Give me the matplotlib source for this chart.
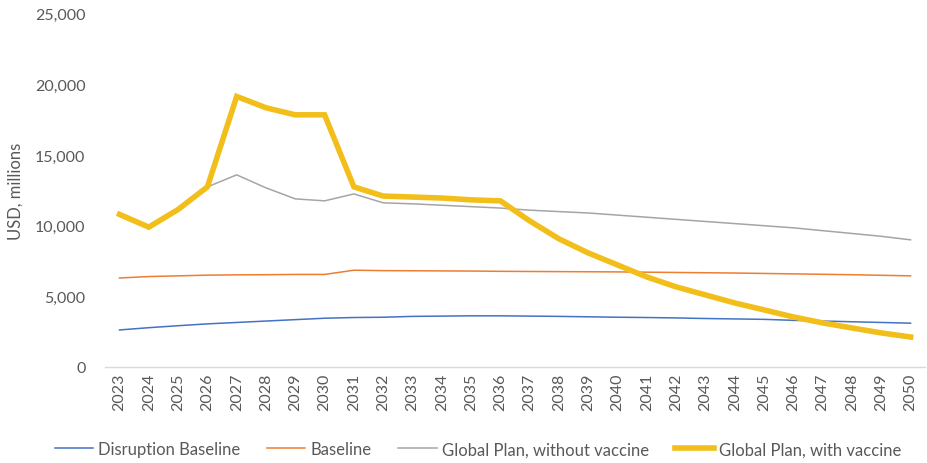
import numpy as np
import matplotlib.pyplot as plt
from matplotlib.ticker import FuncFormatter

plt.rcParams['font.family'] = ['Lato', 'DejaVu Sans']

years = list(range(2023, 2051))

disruption_baseline = [2620, 2780, 2920, 3050, 3150, 3250, 3350, 3450, 3500, 3520,
                       3580, 3600, 3620, 3620, 3600, 3580, 3550, 3520, 3500, 3470,
                       3430, 3400, 3370, 3300, 3250, 3200, 3150, 3100]
baseline = [6300, 6400, 6450, 6500, 6520, 6530, 6550, 6550, 6850, 6820,
            6810, 6800, 6790, 6770, 6760, 6750, 6740, 6730, 6710, 6690,
            6670, 6650, 6620, 6590, 6560, 6530, 6490, 6450]
plan_no_vaccine = [10800, 9900, 11150, 12750, 13600, 12680, 11900, 11760, 12250, 11620,
                   11550, 11450, 11350, 11250, 11100, 11000, 10900, 10750, 10600, 10450,
                   10300, 10150, 10000, 9850, 9650, 9450, 9250, 9000]
plan_vaccine = [10800, 9900, 11150, 12750, 19150, 18350, 17850, 17850, 12750, 12100,
                12030, 11960, 11830, 11760, 10340, 9070, 8070, 7220, 6370, 5670,
                5100, 4530, 4040, 3540, 3120, 2760, 2410, 2120]

fig = plt.figure(figsize=(9.28, 4.64), dpi=100)
ax = fig.add_axes([0.113, 0.207, 0.884, 0.761])

ax.plot(years, disruption_baseline, color='#4472C4', lw=1.1, label='Disruption Baseline')
ax.plot(years, baseline, color='#ED7D31', lw=1.1, label='Baseline')
ax.plot(years, plan_no_vaccine, color='#A5A5A5', lw=1.1, label='Global Plan, without vaccine')
ax.plot(years, plan_vaccine, color='#F2BE1A', lw=4.0, label='Global Plan, with vaccine',
        solid_joinstyle='miter')

ax.set_xlim(2022.5, 2050.5)
ax.set_ylim(0, 25000)
ax.set_xticks(years)
ax.set_xticklabels([str(y) for y in years], rotation=90)
ax.set_yticks(np.arange(0, 25001, 5000))
ax.yaxis.set_major_formatter(FuncFormatter(lambda v, p: f'{int(v):,}'))
ax.tick_params(axis='both', length=0, labelsize=11.5, colors='#595959')
ax.tick_params(axis='y', pad=14)
ax.tick_params(axis='x', pad=4)

for side in ['top', 'right', 'left']:
    ax.spines[side].set_visible(False)
ax.spines['bottom'].set_color('#D9D9D9')
ax.spines['bottom'].set_linewidth(1)

ax.set_ylabel('USD, millions', fontsize=12, color='#595959', labelpad=8)

fig.legend(loc='lower center', bbox_to_anchor=(0.515, -0.02), ncol=4, frameon=False,
           fontsize=12, handlelength=2.3, handletextpad=0.3, columnspacing=1.6,
           labelcolor='#595959')

fig.savefig('out.png', dpi=100)
